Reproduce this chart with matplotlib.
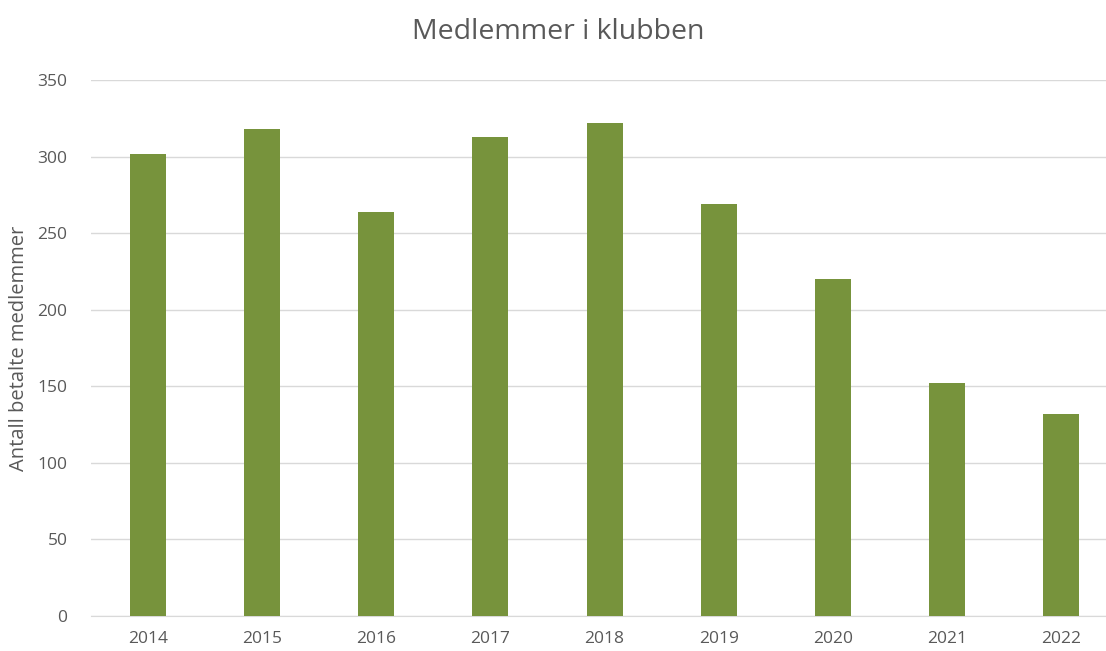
import matplotlib.pyplot as plt
import numpy as np

years = ['2014', '2015', '2016', '2017', '2018', '2019', '2020', '2021', '2022']
members = [302, 318, 264, 313, 322, 269, 220, 152, 132]
yticks = [0, 50, 100, 150, 200, 250, 300, 350]

plt.rcParams['font.family'] = ['Open Sans', 'DejaVu Sans']
text_col = '#595959'

fig = plt.figure(figsize=(11.06, 6.51), dpi=100)
# the plot area runs a little past the right edge in the reference (cropped)
ax = fig.add_axes([0.0823, 0.0538, 0.9286, 0.8232])

x = np.arange(len(years))
ax.bar(x, members, width=0.315, color='#77933C', zorder=3)

ax.set_xlim(-0.5, len(years) - 0.5)
ax.set_ylim(0, 350)
ax.set_yticks(yticks)
ax.set_xticks(x)
ax.set_xticklabels(years)
ax.tick_params(axis='both', length=0, colors=text_col, labelsize=12.5)
ax.tick_params(axis='y', pad=17)
ax.tick_params(axis='x', pad=11)
ax.grid(axis='y', color='#D9D9D9', linewidth=1, zorder=0)

for s in ['top', 'right', 'left']:
    ax.spines[s].set_visible(False)
ax.spines['bottom'].set_color('#D9D9D9')

ax.set_ylabel('Antall betalte medlemmer', color=text_col, fontsize=14.5, labelpad=6)
fig.text(0.505, 0.951, 'Medlemmer i klubben', ha='center', va='center',
         color=text_col, fontsize=20.5)

fig.savefig('out.png', dpi=100)
